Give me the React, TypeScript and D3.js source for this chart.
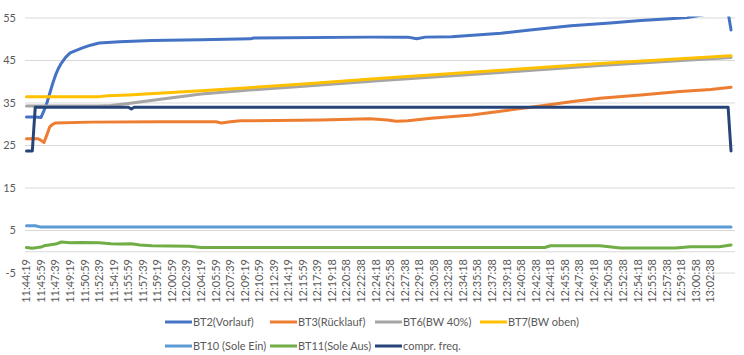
import React from "react";
import * as d3 from "d3";

// ---- data (seconds after 11:44:19, value) ----
const tickLabels = [
  "11:44:19","11:45:59","11:47:39","11:49:19","11:50:59","11:52:39","11:54:19","11:55:59",
  "11:57:39","11:59:19","12:00:59","12:02:39","12:04:19","12:05:59","12:07:39","12:09:19",
  "12:10:59","12:12:39","12:14:19","12:15:59","12:17:39","12:19:18","12:20:58","12:22:38",
  "12:24:18","12:25:58","12:27:38","12:29:18","12:30:58","12:32:38","12:34:18","12:35:58",
  "12:37:38","12:39:18","12:40:58","12:42:38","12:44:18","12:45:58","12:47:38","12:49:18",
  "12:50:58","12:52:38","12:54:18","12:55:58","12:57:38","12:59:18","13:00:58","13:02:38",
];
const yTicks = [-5, 5, 15, 25, 35, 45, 55];

const bt2: [number, number][] = [
  [0,31.7],[60,31.7],[100,31.6],[120,33.2],[140,35.0],[160,37.3],[180,39.6],[200,41.6],[220,43.2],
  [240,44.4],[270,45.8],[300,46.8],[380,47.9],[440,48.6],[500,49.1],[640,49.4],[860,49.7],
  [1200,49.9],[1540,50.1],[1560,50.3],[2360,50.5],[2620,50.5],[2680,50.1],[2740,50.5],[2920,50.6],
  [3260,51.4],[3460,52.2],[3740,53.2],[4010,53.8],[4220,54.4],[4420,54.8],[4540,55.1],[4620,55.6],
  [4700,56.0],[4820,56.3],[4840,52.2],
];
const bt3: [number, number][] = [
  [0,26.6],[80,26.6],[100,26.2],[120,25.7],[140,27.5],[160,29.4],[180,30.0],[200,30.3],[440,30.5],
  [920,30.6],[1300,30.6],[1340,30.3],[1400,30.6],[1470,30.8],[2020,31.0],[2360,31.3],[2480,31.0],
  [2540,30.7],[2620,30.8],[2780,31.4],[3060,32.2],[3330,33.4],[3530,34.3],[3740,35.3],[3940,36.1],
  [4220,36.9],[4490,37.7],[4700,38.2],[4840,38.7],
];
const bt6: [number, number][] = [
  [0,34.3],[500,34.3],[580,34.4],[700,34.9],[920,35.9],[1200,37.1],[1470,37.9],[1880,38.9],
  [2440,40.3],[3260,42.2],[3940,43.8],[4840,45.7],
];
const bt7: [number, number][] = [
  [0,36.5],[500,36.5],[560,36.7],[700,36.9],[1200,37.9],[1880,39.4],[2440,40.8],[3260,42.7],
  [3940,44.3],[4840,46.1],
];
const bt10: [number, number][] = [[0,6.1],[60,6.1],[100,5.8],[4840,5.8]];
const bt11: [number, number][] = [
  [0,1.0],[40,0.8],[100,1.1],[120,1.4],[200,1.8],[240,2.3],[300,2.1],[380,2.2],[500,2.1],
  [580,1.9],[640,1.8],[720,1.9],[780,1.6],[860,1.4],[1120,1.3],[1200,1.0],[3560,1.0],[3600,1.4],
  [3940,1.4],[4080,0.9],[4460,0.9],[4560,1.2],[4760,1.2],[4840,1.6],
];
const comprFreq: [number, number][] = [
  [0,23.7],[40,23.7],[60,34.0],[700,34.0],[720,33.6],[740,34.0],[4820,34.0],[4840,23.7],
];

const seriesNames = [
  "BT2(Vorlauf)","BT3(Rücklauf)","BT6(BW 40%)","BT7(BW oben)",
  "BT10 (Sole Ein)","BT11(Sole Aus)","compr. freq.",
];
const seriesData = [bt2, bt3, bt6, bt7, bt10, bt11, comprFreq];
const seriesColors = ["#4472C4","#ED7D31","#A5A5A5","#FFC000","#5B9BD5","#70AD47","#264478"];

const toSec = (s: string) => {
  const [h, m, x] = s.split(":").map(Number);
  return h * 3600 + m * 60 + x;
};

export default function App() {
  const W = 744, H = 355;
  const t0 = toSec(tickLabels[0]);
  const tLast = toSec(tickLabels[tickLabels.length - 1]) - t0;
  const x = d3.scaleLinear().domain([0, tLast]).range([26.5, 710.5]);
  const y = d3.scaleLinear().domain([-5, 55]).range([273, 18]);
  const line = d3.line<[number, number]>().x(d => x(d[0])).y(d => y(d[1]));
  const plotL = 25, plotR = 735;
  const font = "Lato, 'Open Sans', sans-serif";
  const txt = "#595959";
  const lastLabelX = x(tLast);

  const legendCols = [165, 270, 375, 480];
  const legendRows = [322, 346];

  return (
    <div style={{ position: "absolute", left: 0, top: 0 }}>
      <svg width={W} height={H} style={{ display: "block", background: "#fff" }}>
        <defs>
          <clipPath id="plotClip">
            <rect x={0} y={16.5} width={W} height={280} />
          </clipPath>
        </defs>
        {yTicks.map(v => (
          <line key={v} x1={plotL} x2={plotR} y1={y(v)} y2={y(v)} stroke="#D9D9D9" strokeWidth={1} />
        ))}
        <line x1={plotL} x2={plotR} y1={y(0)} y2={y(0)} stroke="#D9D9D9" strokeWidth={1} />
        <rect x={18} y={256} width={lastLabelX + 4 - 18} height={54} fill="#fff" />
        {yTicks.map(v => (
          <text key={v} x={16} y={y(v)} dy="0.35em" textAnchor="end" fontFamily={font} fontSize={11} fill={txt}>
            {v}
          </text>
        ))}
        {tickLabels.map(l => {
          const tx = x(toSec(l) - t0);
          return (
            <text key={l} transform={`translate(${tx},259) rotate(-90)`} dy="0.35em" textAnchor="end"
              fontFamily={font} fontSize={11} fill={txt}>
              {l}
            </text>
          );
        })}
        <g clipPath="url(#plotClip)">
          {seriesData.map((d, i) => (
            <path key={i} d={line(d) || ""} fill="none" stroke={seriesColors[i]} strokeWidth={3}
              strokeLinejoin="round" strokeLinecap="round" />
          ))}
        </g>
        {seriesNames.map((n, i) => {
          const cx = legendCols[i % 4];
          const cy = legendRows[Math.floor(i / 4)];
          return (
            <g key={n}>
              <line x1={cx} x2={cx + 27} y1={cy} y2={cy} stroke={seriesColors[i]} strokeWidth={3} />
              <text x={cx + 28} y={cy} dy="0.35em" fontFamily={font} fontSize={11} fill={txt}>{n}</text>
            </g>
          );
        })}
      </svg>
    </div>
  );
}
